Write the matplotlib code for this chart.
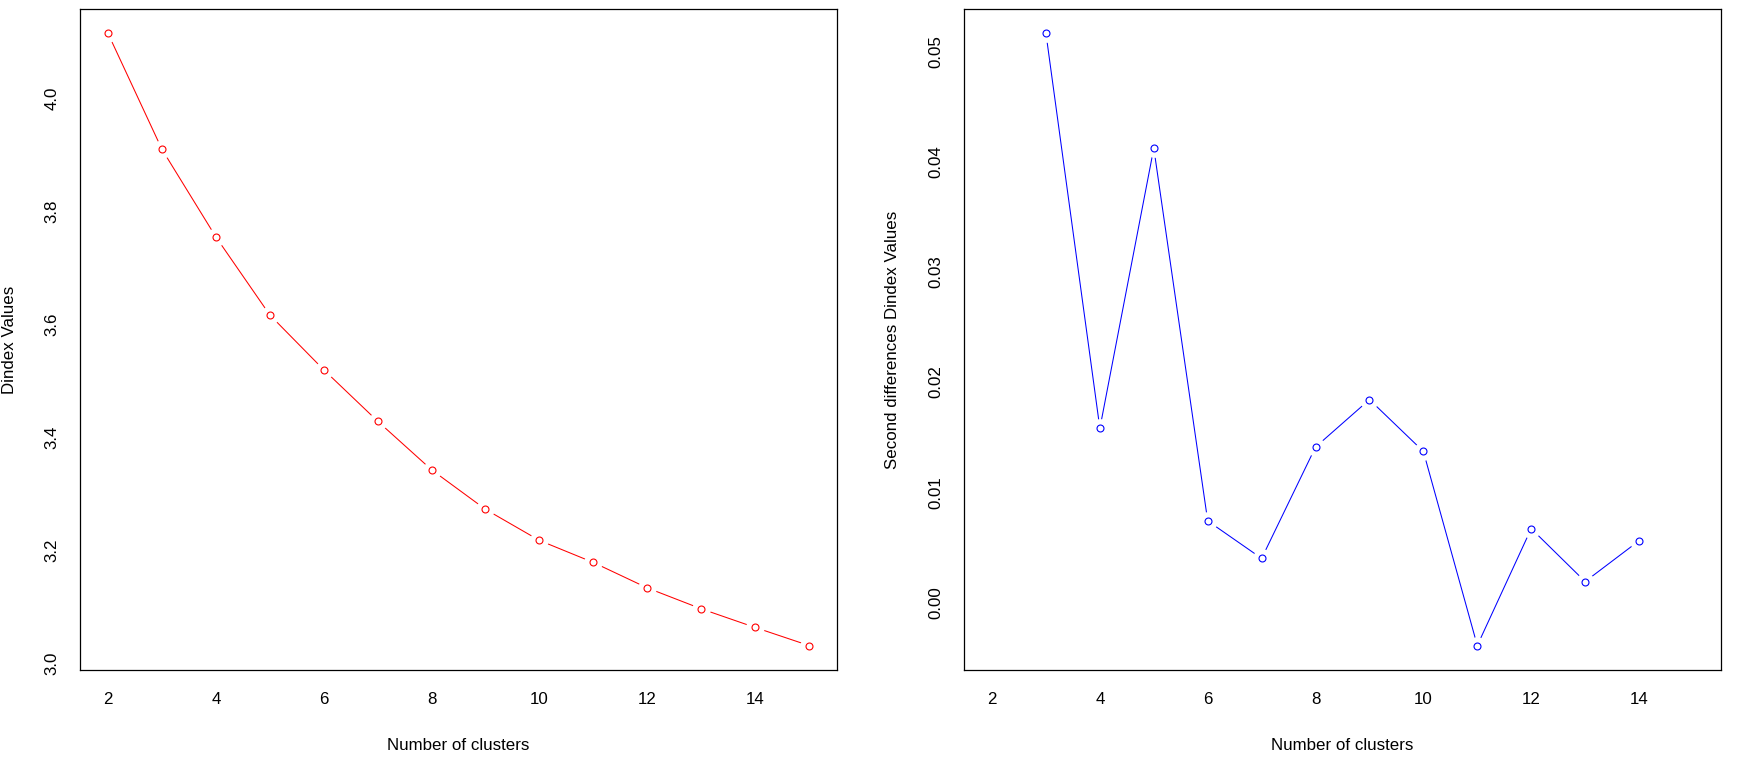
import matplotlib
matplotlib.use("Agg")
import matplotlib.pyplot as plt

# ---- data ----
clusters_left = [2, 3, 4, 5, 6, 7, 8, 9, 10, 11, 12, 13, 14, 15]
dindex_values = [4.115, 3.910, 3.755, 3.617, 3.520, 3.429, 3.343, 3.273,
                 3.218, 3.179, 3.134, 3.097, 3.064, 3.032]

clusters_right = [3, 4, 5, 6, 7, 8, 9, 10, 11, 12, 13, 14]
second_diff = [0.0516, 0.0158, 0.0412, 0.0074, 0.0040, 0.0141, 0.0184,
               0.0137, -0.0039, 0.0067, 0.0019, 0.0056]

x_ticks = [2, 4, 6, 8, 10, 12, 14]
left_yticks = [3.0, 3.2, 3.4, 3.6, 3.8, 4.0]
left_ytick_labels = ["3.0", "3.2", "3.4", "3.6", "3.8", "4.0"]
right_yticks = [0.00, 0.01, 0.02, 0.03, 0.04, 0.05]
right_ytick_labels = ["0.00", "0.01", "0.02", "0.03", "0.04", "0.05"]

xlabel = "Number of clusters"
left_ylabel = "Dindex Values"
right_ylabel = "Second differences Dindex Values"

plt.rcParams['font.family'] = ['Liberation Sans', 'DejaVu Sans']
FS = 12.2

W, H = 1747, 767
fig = plt.figure(figsize=(W / 100, H / 100), dpi=100)

def r_lim(vals):
    lo, hi = min(vals), max(vals)
    d = (hi - lo) * 0.04
    return lo - d, hi + d

def make_axes(x0px, vals_x, vals_y, color, yticks, ylabels, ylabel):
    ax = fig.add_axes([x0px / W, 1 - 670 / H, 757 / W, 661 / H])
    # line, white halos for R type="b" gaps, open circles
    ax.plot(vals_x, vals_y, color=color, lw=0.75, zorder=2)
    ax.plot(vals_x, vals_y, 'o', ms=13.5, mfc='white', mec='none', zorder=3)
    ax.plot(vals_x, vals_y, 'o', ms=5.0, mfc='none', mec=color, mew=0.8,
            zorder=4)
    ax.set_xlim(1.48, 15.52)
    ax.set_ylim(*r_lim(vals_y))
    ax.set_xticks(x_ticks)
    ax.set_xticklabels([str(t) for t in x_ticks])
    ax.set_yticks(yticks)
    ax.set_yticklabels(ylabels, rotation=90, va='center')
    ax.tick_params(axis='both', length=0, labelsize=FS)
    ax.tick_params(axis='x', pad=15.5)
    ax.tick_params(axis='y', pad=14.5)
    for s in ax.spines.values():
        s.set_linewidth(0.9)
        s.set_color('black')
    ax.set_xlabel(xlabel, fontsize=FS)
    ax.xaxis.label.set_va('center')
    ax.xaxis.set_label_coords(0.5, -(745 - 670) / 661)
    ax.set_ylabel(ylabel, fontsize=FS)
    ax.yaxis.label.set_va('center')
    return ax

axL = make_axes(80, clusters_left, dindex_values, '#FF0000',
                left_yticks, left_ytick_labels, left_ylabel)
axL.yaxis.set_label_coords((10 - 80) / 757, 0.5)

axR = make_axes(964, clusters_right, second_diff, '#0000FF',
                right_yticks, right_ytick_labels, right_ylabel)
axR.yaxis.set_label_coords((893 - 964) / 757, 0.5)

fig.savefig("out.png", dpi=100, facecolor='white')
